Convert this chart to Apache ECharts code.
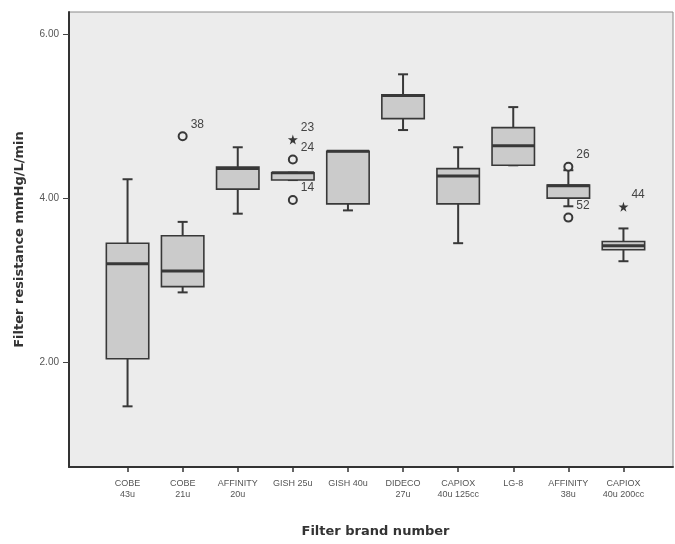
<!DOCTYPE html>
<html>
<head>
<meta charset="utf-8">
<script src="https://cdn.jsdelivr.net/npm/echarts@6/dist/echarts.min.js"></script>
<style>
  html, body { margin: 0; padding: 0; background: #fff; }
  #chart { width: 675px; height: 544px; }
</style>
</head>
<body>
<div id="chart"></div>
<script>
// filter brands
const categories = ['COBE\n43u', 'COBE\n21u', 'AFFINITY\n20u', 'GISH 25u', 'GISH 40u',
  'DIDECO\n27u', 'CAPIOX\n40u 125cc', 'LG-8', 'AFFINITY\n38u', 'CAPIOX\n40u 200cc'];
const whiskerLow  = [1.46, 2.85, 3.81, 4.22, 3.85, 4.83, 3.45, 4.40, 3.90, 3.23];
const q1          = [2.04, 2.92, 4.11, 4.22, 3.93, 4.97, 3.93, 4.40, 4.00, 3.37];
const median      = [3.20, 3.11, 4.36, 4.31, 4.57, 5.25, 4.27, 4.64, 4.15, 3.42];
const q3          = [3.45, 3.54, 4.38, 4.31, 4.57, 5.26, 4.36, 4.86, 4.16, 3.47];
const whiskerHigh = [4.23, 3.71, 4.62, 4.31, 4.57, 5.51, 4.62, 5.11, 4.34, 3.63];

// outliers: [category index, value, case label]
const circleOutliers = [[1, 4.755, '38'], [3, 4.47, '24'], [3, 3.977, '14'], [8, 4.382, '26'], [8, 3.762, '52']];
const starOutliers = [[3, 4.715, '23'], [9, 3.895, '44']];

const yTicks = [2, 4, 6];

const boxData = categories.map((c, i) => [i, whiskerLow[i], q1[i], median[i], q3[i], whiskerHigh[i]]);

const chart = echarts.init(document.getElementById('chart'), null, { renderer: 'canvas' });

const ink = '#383838';
const starPath = 'path://M50,0 L61,35 L98,35 L68,57 L79,91 L50,70 L21,91 L32,57 L2,35 L39,35 Z';

function renderBox(params, api) {
  const idx = api.value(0);
  const pLow = api.coord([idx, api.value(1)]);
  const pQ1 = api.coord([idx, api.value(2)]);
  const pMed = api.coord([idx, api.value(3)]);
  const pQ3 = api.coord([idx, api.value(4)]);
  const pHigh = api.coord([idx, api.value(5)]);
  const band = api.size([1, 0])[0];
  const half = band * 0.385;
  const cap = 5;
  const x = pMed[0];
  const line = { stroke: ink, lineWidth: 2 };
  return {
    type: 'group',
    children: [
      { type: 'line', shape: { x1: x, y1: pHigh[1], x2: x, y2: pQ3[1] }, style: line },
      { type: 'line', shape: { x1: x, y1: pQ1[1], x2: x, y2: pLow[1] }, style: line },
      { type: 'line', shape: { x1: x - cap, y1: pHigh[1], x2: x + cap, y2: pHigh[1] }, style: line },
      { type: 'line', shape: { x1: x - cap, y1: pLow[1], x2: x + cap, y2: pLow[1] }, style: line },
      { type: 'rect', shape: { x: x - half, y: pQ3[1], width: half * 2, height: pQ1[1] - pQ3[1] },
        style: { fill: '#cbcbcb', stroke: ink, lineWidth: 1.6 } },
      { type: 'line', shape: { x1: x - half, y1: pMed[1], x2: x + half, y2: pMed[1] },
        style: { stroke: ink, lineWidth: 3 } }
    ]
  };
}

const outlierLabel = {
  show: true,
  formatter: p => p.data[2],
  position: 'right',
  offset: [-2, -12],
  color: '#444',
  fontSize: 12,
  fontFamily: 'Liberation Sans'
};

const option = {
  backgroundColor: '#fff',
  animation: false,
  grid: [
    { left: 100, right: 24, top: 12, bottom: 77 },
    { left: 69, right: 2, top: 12, bottom: 77, show: true, backgroundColor: '#ececec',
      borderColor: '#8a8a8a', borderWidth: 1, z: 0 }
  ],
  xAxis: [
    {
      type: 'category', gridIndex: 0, data: categories,
      axisLine: { show: false },
      axisTick: { show: true, alignWithLabel: true, length: 5, lineStyle: { color: '#333', width: 1.5 } },
      axisLabel: { interval: 0, margin: 11, fontSize: 9, lineHeight: 11, color: '#555', fontFamily: 'Liberation Sans' },
      name: 'Filter brand number', nameLocation: 'middle', nameGap: 58,
      nameTextStyle: { fontSize: 13, fontWeight: 'bold', color: '#333', fontFamily: 'DejaVu Sans' }
    },
    {
      type: 'value', gridIndex: 1, min: 0, max: 1,
      axisLine: { show: true, lineStyle: { color: '#333', width: 2 } },
      axisTick: { show: false }, axisLabel: { show: false }, splitLine: { show: false }
    }
  ],
  yAxis: [
    {
      type: 'value', gridIndex: 0, min: 0.72, max: 6.27,
      axisLine: { show: false }, axisTick: { show: false }, axisLabel: { show: false }, splitLine: { show: false }
    },
    {
      type: 'value', gridIndex: 1, min: 0.72, max: 6.27,
      axisLine: { show: true, lineStyle: { color: '#333', width: 2 } },
      axisTick: { show: true, customValues: yTicks, length: 6, lineStyle: { color: '#444', width: 1 } },
      axisLabel: { customValues: yTicks, formatter: v => v.toFixed(2), margin: 10, fontSize: 10,
        color: '#555', fontFamily: 'Liberation Sans' },
      splitLine: { show: false },
      name: 'Filter resistance mmHg/L/min', nameLocation: 'middle', nameGap: 43,
      nameTextStyle: { fontSize: 13, fontWeight: 'bold', color: '#333', fontFamily: 'DejaVu Sans' }
    }
  ],
  series: [
    {
      type: 'custom', xAxisIndex: 0, yAxisIndex: 0, z: 3,
      renderItem: renderBox,
      encode: { x: 0, y: [1, 2, 3, 4, 5] },
      data: boxData
    },
    {
      type: 'scatter', xAxisIndex: 0, yAxisIndex: 0, z: 4,
      symbol: 'circle', symbolSize: 8,
      itemStyle: { color: '#ececec', borderColor: ink, borderWidth: 2, opacity: 1 },
      label: outlierLabel,
      data: circleOutliers
    },
    {
      type: 'scatter', xAxisIndex: 0, yAxisIndex: 0, z: 4,
      symbol: starPath, symbolSize: 10,
      itemStyle: { color: ink, opacity: 1 },
      label: outlierLabel,
      data: starOutliers
    }
  ]
};

chart.setOption(option);
</script>
</body>
</html>
